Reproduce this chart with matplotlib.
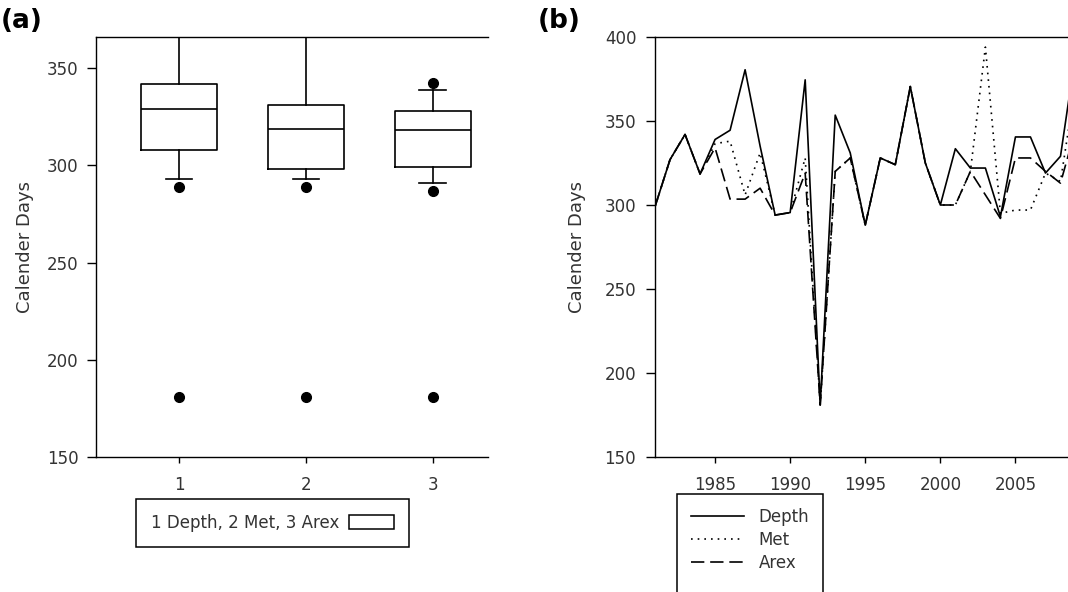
import matplotlib
matplotlib.use("Agg")
import matplotlib.pyplot as plt
from matplotlib.lines import Line2D
from matplotlib.patches import Patch

plt.rcParams['font.family'] = ['DejaVu Sans']

# ---------------- data: panel (a) box plot statistics ----------------
box_positions = [1, 2, 3]
box_q1 = [308, 298, 299]
box_med = [329, 318.5, 318]
box_q3 = [342, 331, 328]
box_whislo = [293, 293, 291]
box_whishi = [380.5, 394, 339]
box_fliers = [[289, 181], [289, 181], [342.5, 287, 181]]
box_xticklabels = ['1', '2', '3']

# ---------------- data: panel (b) time series ----------------
years = list(range(1981, 2010))
depth = [299, 327, 342, 318.5, 339, 344.5, 380.5, 335, 294, 295.5,
         374.5, 181, 353.5, 331, 288, 328, 324, 370.5, 325, 300,
         333.5, 322, 322, 293, 340.5, 340.5, 319, 329, 390]
met = [299, 327, 342, 318.5, 336.5, 338, 306, 331, 294, 295.5,
       328, 181, 320, 328, 288, 328, 324, 370.5, 325, 300,
       300, 320, 394, 295, 297, 297, 319, 314, 372]
arex = [299, 327, 342, 318.5, 334, 303.5, 303.5, 310, 294, 295.5,
        319, 181, 320, 328, 288, 328, 324, 370.5, 325, 300,
        300, 320, 306, 292, 328, 328, 320, 313, 345]
year_ticks = [1985, 1990, 1995, 2000, 2005]

W, H = 1068, 592
fig = plt.figure(figsize=(W / 100, H / 100), dpi=100)

def px_axes(l, t, r, b):
    return fig.add_axes([l / W, 1 - b / H, (r - l) / W, (b - t) / H])

txt_col = '#333333'
lw = 1.0
mlw = 1.2

# ---------------- panel (a) ----------------
ax1 = px_axes(96, 37, 488, 457)
stats = []
for i in range(3):
    stats.append(dict(med=box_med[i], q1=box_q1[i], q3=box_q3[i],
                      whislo=box_whislo[i], whishi=box_whishi[i],
                      fliers=box_fliers[i]))
ax1.bxp(stats, positions=box_positions, widths=0.6, capwidths=0.21,
        showfliers=True,
        boxprops=dict(color='black', linewidth=mlw),
        medianprops=dict(color='black', linewidth=mlw),
        whiskerprops=dict(color='black', linewidth=mlw),
        capprops=dict(color='black', linewidth=mlw),
        flierprops=dict(marker='o', markerfacecolor='black',
                        markeredgecolor='black', markersize=7))
ax1.set_xlim(0.345, 3.436)
ax1.set_ylim(150, 366)
ax1.set_xticks(box_positions)
ax1.set_xticklabels(box_xticklabels)
ax1.set_yticks([150, 200, 250, 300, 350])
ax1.spines['right'].set_visible(False)
for s in ['left', 'top', 'bottom']:
    ax1.spines[s].set_linewidth(lw)
ax1.tick_params(axis='y', direction='out', length=6.5, width=lw,
                labelsize=12, labelcolor=txt_col, pad=6)
ax1.tick_params(axis='x', direction='out', length=4, width=lw,
                labelsize=12, labelcolor=txt_col, pad=10)
ax1.set_ylabel('Calender Days', fontsize=13, color=txt_col)
ax1.yaxis.set_label_coords(-0.158, 0.5)
leg1 = ax1.legend([Patch(facecolor='white', edgecolor='black', linewidth=1.1)],
                  ['1 Depth, 2 Met, 3 Arex'],
                  loc='upper left', bbox_to_anchor=(0.102, -0.1),
                  borderaxespad=0, markerfirst=False, fancybox=False,
                  edgecolor='black', framealpha=1, fontsize=12,
                  handlelength=2.65, handleheight=0.95, handletextpad=0.6,
                  borderpad=0.9)
leg1.get_frame().set_linewidth(1.1)
for t in leg1.get_texts():
    t.set_color(txt_col)

# ---------------- panel (b) ----------------
ax2 = px_axes(655, 37, 1068, 457)
l1, = ax2.plot(years, depth, color='black', linewidth=mlw, linestyle='-')
l2, = ax2.plot(years, met, color='black', linewidth=mlw, linestyle=(0, (1, 3)))
l3, = ax2.plot(years, arex, color='black', linewidth=mlw, linestyle=(0, (8, 3.5)))
ax2.set_xlim(1981, 2008.5)
ax2.set_ylim(150, 400)
ax2.set_xticks(year_ticks)
ax2.set_yticks([150, 200, 250, 300, 350, 400])
ax2.spines['right'].set_visible(False)
for s in ['left', 'top', 'bottom']:
    ax2.spines[s].set_linewidth(lw)
ax2.tick_params(axis='y', direction='out', length=6.5, width=lw,
                labelsize=12, labelcolor=txt_col, pad=7)
ax2.tick_params(axis='x', direction='out', length=4.5, width=lw,
                labelsize=12, labelcolor=txt_col, pad=9)
ax2.set_ylabel('Calender Days', fontsize=13, color=txt_col)
ax2.yaxis.set_label_coords(-0.167, 0.5)
blank = Line2D([], [], color='none')
leg2 = ax2.legend([l1, l2, l3, blank], ['Depth', 'Met', 'Arex', ' '],
                  loc='upper left', bbox_to_anchor=(0.053, -0.088),
                  borderaxespad=0, fancybox=False, edgecolor='black',
                  framealpha=1, fontsize=12, handlelength=3.2,
                  handletextpad=0.85, labelspacing=0.3, borderpad=0.85)
leg2.get_frame().set_linewidth(1.1)
for t in leg2.get_texts():
    t.set_color(txt_col)

# ---------------- panel labels ----------------
fig.text(1 / W, 1 - 8 / H, '(a)', fontsize=19, fontweight='bold',
         ha='left', va='top')
fig.text(538 / W, 1 - 8 / H, '(b)', fontsize=19, fontweight='bold',
         ha='left', va='top')

fig.savefig('out.png', dpi=100)
